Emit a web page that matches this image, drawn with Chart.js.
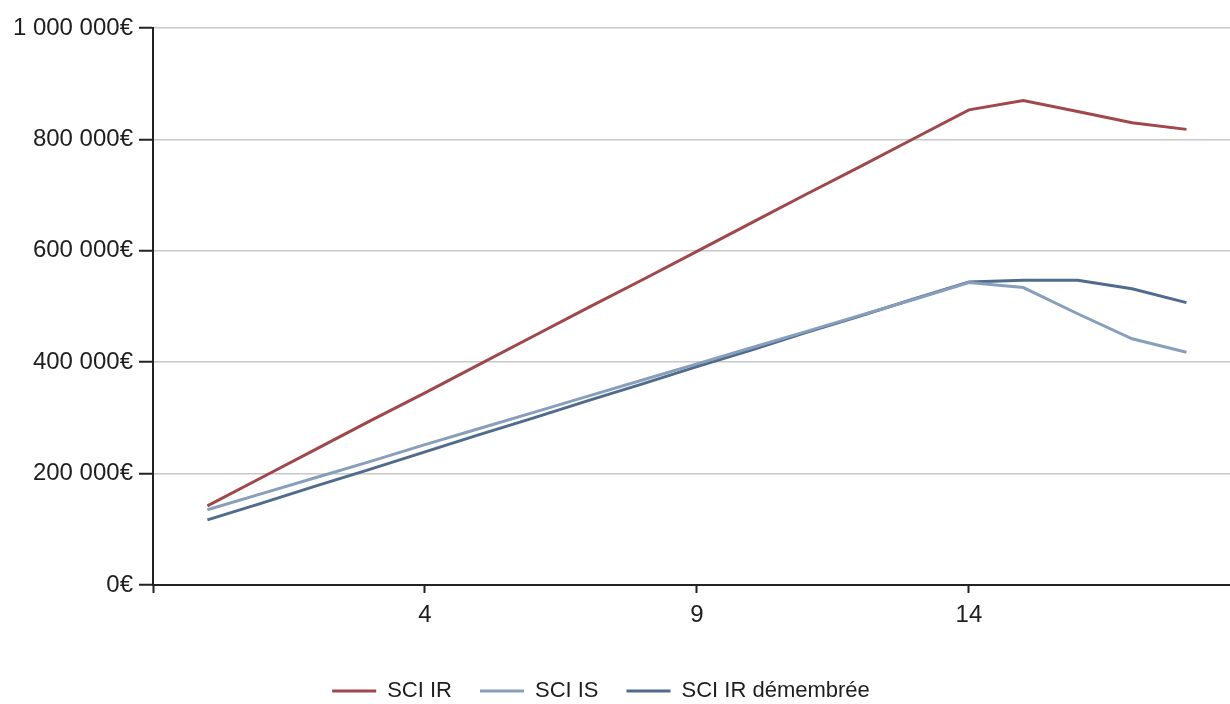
<!DOCTYPE html>
<html>
<head>
<meta charset="utf-8">
<script src="https://cdn.jsdelivr.net/npm/chart.js@4/dist/chart.umd.min.js"></script>
<style>
  html, body { margin: 0; padding: 0; background: #ffffff; }
  #wrap { width: 1230px; height: 704px; position: relative; }
</style>
</head>
<body>
<div id="wrap"><canvas id="c" width="1230" height="704"></canvas></div>
<script>
// ---- data ----
const years = [0, 1, 2, 3, 4, 5, 6, 7, 8, 9, 10, 11, 12, 13, 14, 15, 16, 17, 18];
const sciIR = [142000, 193000, 244000, 295000, 345000, 396000, 447000, 498000, 548000, 599000, 650000, 701000, 751000, 802000, 853000, 870000, 850000, 830000, 818000];
const sciIS = [135000, 164000, 193000, 222000, 252000, 281000, 310000, 339000, 368000, 397000, 426000, 455000, 484000, 513000, 543000, 534000, 487000, 442000, 418000];
const sciIRDem = [117000, 147000, 178000, 208000, 239000, 270000, 300000, 331000, 361000, 392000, 422000, 453000, 483000, 514000, 544000, 547000, 547000, 532000, 507000];
const seriesNames = ['SCI IR', 'SCI IS', 'SCI IR démembrée'];
const xTickValues = [4, 9, 14];
const yTickValues = [0, 200000, 400000, 600000, 800000, 1000000];

const colors = ['#a0474b', '#879fba', '#4f6c8c'];
const FONT = "'Liberation Sans', Arial, sans-serif";

function pts(vals) { return years.map((x, i) => ({ x: x, y: vals[i] })); }
function fmtEuro(v) {
  const s = Math.round(v).toString().replace(/\B(?=(\d{3})+(?!\d))/g, ' ');
  return s + '€';
}

const datasets = [sciIR, sciIS, sciIRDem].map((vals, i) => ({
  label: seriesNames[i],
  data: pts(vals),
  borderColor: colors[i],
  backgroundColor: colors[i],
  borderWidth: 3,
  pointRadius: 0,
  tension: 0,
  fill: false
}));

const legendHeightPlugin = {
  id: 'legendHeight',
  beforeInit(chart) {
    const orig = chart.legend.fit;
    chart.legend.fit = function () {
      orig.call(chart.legend);
      this.height = 52;
    };
  },
  afterLayout(chart) {
    chart.legend.left -= 14;
    chart.legend.right -= 14;
  }
};

const X_MIN = -1;

new Chart(document.getElementById('c'), {
  type: 'line',
  data: { datasets: datasets },
  plugins: [legendHeightPlugin],
  options: {
    responsive: false,
    animation: false,
    devicePixelRatio: 1,
    layout: { padding: { top: 28, right: 0, left: 0, bottom: 0 } },
    plugins: {
      tooltip: { enabled: false },
      legend: {
        position: 'bottom',
        labels: {
          usePointStyle: true,
          pointStyle: 'line',
          pointStyleWidth: 44,
          padding: 28,
          color: '#1e1e1e',
          font: { family: FONT, size: 22 }
        }
      }
    },
    scales: {
      x: {
        type: 'linear',
        min: X_MIN,
        max: 18.8,
        afterBuildTicks: (scale) => { scale.ticks = [X_MIN].concat(xTickValues).map(v => ({ value: v })); },
        afterFit: (scale) => { scale.height = 67; },
        border: { display: true, color: '#222222', width: 2 },
        grid: { display: true, drawOnChartArea: false, drawTicks: true, tickLength: 8, tickColor: '#222222', tickWidth: 2 },
        ticks: {
          color: '#1e1e1e',
          padding: 8,
          maxRotation: 0,
          autoSkip: false,
          font: { family: FONT, size: 24 },
          callback: (v) => (v === X_MIN ? '' : String(v))
        }
      },
      y: {
        type: 'linear',
        min: 0,
        max: 1000000,
        afterBuildTicks: (scale) => { scale.ticks = yTickValues.map(v => ({ value: v })); },
        afterFit: (scale) => { scale.width = 153; },
        border: { display: true, color: '#222222', width: 2 },
        grid: { display: true, color: '#c8c8c8', lineWidth: 1.5, drawTicks: true, tickLength: 14, tickColor: '#222222', tickWidth: 2 },
        ticks: {
          color: '#1e1e1e',
          padding: 6,
          font: { family: FONT, size: 24 },
          callback: (v) => fmtEuro(v)
        }
      }
    }
  }
});
</script>
</body>
</html>
